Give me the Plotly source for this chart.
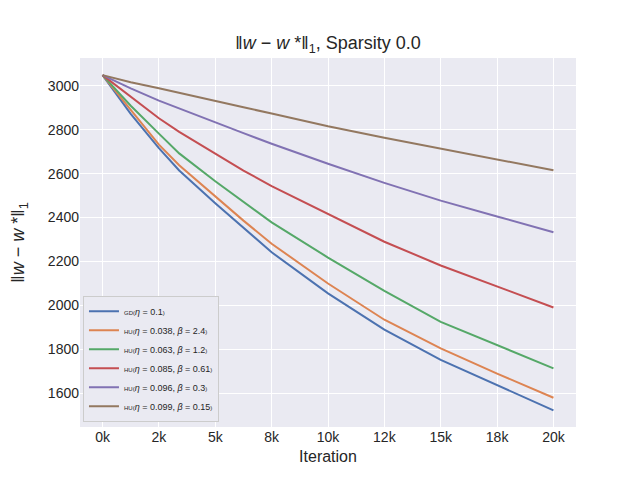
import plotly.graph_objects as go

iterations = [0, 1250, 2500, 3400, 5000, 6250, 7500, 10000, 12500, 15000, 17500, 20000]

gd = [3048, 2872, 2716, 2614, 2465, 2352, 2242, 2055, 1890, 1752, 1636, 1523]
hu_038 = [3048, 2888, 2732, 2638, 2495, 2386, 2281, 2100, 1935, 1805, 1690, 1580]
hu_063 = [3048, 2909, 2782, 2692, 2565, 2470, 2378, 2218, 2066, 1925, 1818, 1714]
hu_085 = [3048, 2950, 2852, 2790, 2690, 2614, 2543, 2415, 2290, 2182, 2086, 1991]
hu_096 = [3048, 2988, 2932, 2896, 2832, 2784, 2736, 2645, 2558, 2477, 2405, 2333]
hu_099 = [3048, 3016, 2988, 2968, 2931, 2902, 2873, 2815, 2763, 2713, 2664, 2615]

names = [
    "<span style='font-size:6px'>GD(</span><i>η</i> = 0.1<span style='font-size:6px'>)</span>",
    "<span style='font-size:6px'>HU(</span><i>η</i> = 0.038, <i>β</i> = 2.4<span style='font-size:6px'>)</span>",
    "<span style='font-size:6px'>HU(</span><i>η</i> = 0.063, <i>β</i> = 1.2<span style='font-size:6px'>)</span>",
    "<span style='font-size:6px'>HU(</span><i>η</i> = 0.085, <i>β</i> = 0.61<span style='font-size:6px'>)</span>",
    "<span style='font-size:6px'>HU(</span><i>η</i> = 0.096, <i>β</i> = 0.3<span style='font-size:6px'>)</span>",
    "<span style='font-size:6px'>HU(</span><i>η</i> = 0.099, <i>β</i> = 0.15<span style='font-size:6px'>)</span>",
]
series = [gd, hu_038, hu_063, hu_085, hu_096, hu_099]
colors = ["#4C72B0", "#DD8452", "#55A868", "#C44E52", "#8172B3", "#937860"]

x_tickvals = [0, 2500, 5000, 7500, 10000, 12500, 15000, 17500, 20000]
x_ticktext = ["0k", "2k", "5k", "8k", "10k", "12k", "15k", "18k", "20k"]
y_tickvals = [1600, 1800, 2000, 2200, 2400, 2600, 2800, 3000]

fig = go.Figure()
for name, ys, c in zip(names, series, colors):
    fig.add_trace(go.Scatter(x=iterations, y=ys, mode="lines", name=name,
                             line=dict(color=c, width=2)))

# page body has an 8px margin, so the figure is made 8px smaller
font = "Liberation Sans, Arial, sans-serif"
fig.update_layout(
    width=632, height=472,
    margin=dict(l=72, r=64, t=50, b=53),
    paper_bgcolor="white", plot_bgcolor="#EAEAF2",
    font=dict(family=font, color="#262626"),
    title=dict(text="‖<i>w</i> − <i>w</i> *‖<sub>1</sub>, Sparsity 0.0",
               x=(328 - 8) / 632, xanchor="center", y=1 - 35 / 472, yanchor="middle",
               font=dict(size=18, color="#262626")),
    showlegend=True,
    legend=dict(x=0.006, y=0.014, xanchor="left", yanchor="bottom",
                bgcolor="#EAEAF2", bordercolor="#CCCCCC", borderwidth=1,
                font=dict(size=9, color="#262626"), itemwidth=30,
                tracegroupgap=0),
)
fig.update_xaxes(range=[-1000, 21000], tickvals=x_tickvals, ticktext=x_ticktext,
                 showgrid=True, gridcolor="white", gridwidth=1.3, zeroline=False,
                 showline=False, ticks="", tickfont=dict(size=14), automargin=False,
                 title=dict(text="Iteration", font=dict(size=16), standoff=6))
fig.update_yaxes(range=[1447, 3126], tickvals=y_tickvals,
                 showgrid=True, gridcolor="white", gridwidth=1.3, zeroline=False,
                 showline=False, ticks="", tickfont=dict(size=14), automargin=False,
                 title=dict(text="‖<i>w</i> − <i>w</i> *‖<sub>1</sub>",
                            font=dict(size=18), standoff=22))

fig.write_html("out.html")
